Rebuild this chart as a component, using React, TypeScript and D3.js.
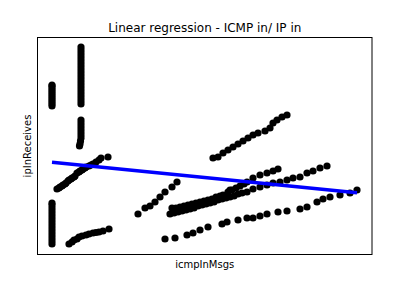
import React from "react";
import * as d3 from "d3";

const colLeftUpperX = [0, 0, 0, 0, 0, 0, 0, 0, 0, 0, 0, 0];
const colLeftUpperY = [140, 142, 144, 146, 148, 150, 152, 154, 156, 158, 160, 161];
const colLeftLowerX = [0, 0, 0, 0, 0, 0, 0, 0, 0, 0, 0, 0, 0, 0, 0];
const colLeftLowerY = [2, 5, 8, 11, 14, 17, 20, 23, 26, 29, 32, 35, 38, 41, 43];
const colMidUpperX = [29, 29, 29, 29, 29, 29, 29, 29, 29, 29, 29, 29, 29, 29, 29, 29, 29, 29, 29, 29];
const colMidUpperY = [142, 145, 148, 151, 154, 157, 160, 163, 166, 169, 172, 175, 178, 181, 184, 187, 190, 193, 196, 199];
const colMidLowerX = [29, 29, 29, 29, 29, 29, 29, 28.5, 28, 27.5];
const colMidLowerY = [126, 123, 120, 117, 114, 111, 108, 105, 102, 100];
const diagLeftX = [5, 7, 8, 10, 11, 13, 14, 16, 17, 19, 20, 22, 23, 25, 27, 28, 30, 31, 33, 34, 37, 39, 41, 44, 47, 49, 56];
const diagLeftY = [57, 58, 59, 60, 61, 62, 63, 65, 66, 67, 68, 69, 70, 73, 74, 75, 76, 77, 78, 79, 80, 81, 82, 84, 86, 88, 89];
const rowLeftX = [17, 20, 22, 25, 27, 30, 34, 37, 41, 44, 47, 51, 57];
const rowLeftY = [2, 4, 6, 7, 9, 10, 11, 12, 13, 13.5, 14, 15, 17];
const diagMidX = [86, 93, 98, 103, 108, 113, 120, 125];
const diagMidY = [32, 38, 40, 44, 49, 54, 59, 64];
const bandX = [118, 122, 126, 130, 134, 138, 142, 146, 150, 154, 158, 162, 166, 170, 174, 178, 182, 186, 190,
  120, 124, 128, 132, 136, 140, 144, 148, 152, 156, 160, 164, 168, 171, 176, 178, 180, 184, 188, 192, 195, 201, 208, 215, 221, 226];
const bandY = [32, 33, 34, 35, 36, 37, 38, 40, 41, 42, 43, 44, 46, 47, 48, 49, 50, 52, 53,
  38, 38, 39, 40, 41, 42, 43, 44, 45, 46, 47, 49, 50, 51, 54, 56, 56, 58, 60, 62, 64, 68, 71, 73, 75, 77];
const rowMidX = [195, 201, 208, 215, 221, 228, 235, 241, 248, 255, 261, 268, 275];
const rowMidY = [54, 57, 59, 61, 63, 64, 66, 68, 69, 73, 75, 78, 80];
const rowLowX = [113, 123, 135, 141, 148, 156, 170, 175, 186, 195, 201, 208, 215, 226, 235, 248, 255, 265, 271, 278, 288, 298, 305];
const rowLowY = [7, 8, 11, 13, 16, 19, 22, 24, 26, 28, 28, 30, 32, 34, 35, 37, 39, 44, 47, 49, 51, 53, 56];
const diagRightX = [161, 166, 171, 176, 181, 186, 191, 196, 201, 206, 213, 218, 221, 225, 230, 235];
const diagRightY = [88, 89, 93, 96, 99, 102, 105, 108, 111, 113, 115, 118, 123, 126, 129, 131];

// fitted regression line end points
const fitX = [0, 305];
const fitY = [83.7, 53.3];

const groupsX = [colLeftUpperX, colLeftLowerX, colMidUpperX, colMidLowerX, diagLeftX, rowLeftX, diagMidX, bandX, rowMidX, rowLowX, diagRightX];
const groupsY = [colLeftUpperY, colLeftLowerY, colMidUpperY, colMidLowerY, diagLeftY, rowLeftY, diagMidY, bandY, rowMidY, rowLowY, diagRightY];

const W = 407;
const H = 286;
const left = 37.5;
const right = 372;
const top = 37.5;
const bottom = 254.5;

export default function App() {
  const x = d3.scaleLinear().domain([-14.5, 320]).range([left, right]);
  const y = d3.scaleLinear().domain([-8.5, 208.5]).range([bottom, top]);

  const points: { px: number; py: number }[] = [];
  groupsX.forEach((gx, gi) => {
    gx.forEach((v, i) => points.push({ px: x(v), py: y(groupsY[gi][i]) }));
  });

  const line = d3
    .line<number>()
    .x((d) => x(d))
    .y((_, i) => y(fitY[i]));

  const font = "DejaVu Sans, sans-serif";

  return (
    <svg
      width={W}
      height={H}
      style={{ position: "absolute", left: 0, top: 0, background: "#fff" }}
    >
      <rect x={0} y={0} width={W} height={H} fill="#fff" />
      {points.map((p, i) => (
        <circle key={i} cx={p.px} cy={p.py} r={3.6} fill="#000" />
      ))}
      <path d={line(fitX) || ""} stroke="#0000ff" strokeWidth={3.5} fill="none" />
      <rect
        x={left}
        y={top}
        width={right - left}
        height={bottom - top}
        fill="none"
        stroke="#000"
        strokeWidth={1}
      />
      <text x={(left + right) / 2} y={32} textAnchor="middle" fontFamily={font} fontSize={12} fill="#000">
        Linear regression - ICMP in/ IP in
      </text>
      <text x={(left + right) / 2} y={268} textAnchor="middle" fontFamily={font} fontSize={10} fill="#000">
        icmpInMsgs
      </text>
      <text
        transform={`translate(31,${(top + bottom) / 2}) rotate(-90)`}
        textAnchor="middle"
        fontFamily={font}
        fontSize={10}
        fill="#000"
      >
        ipInReceives
      </text>
    </svg>
  );
}
